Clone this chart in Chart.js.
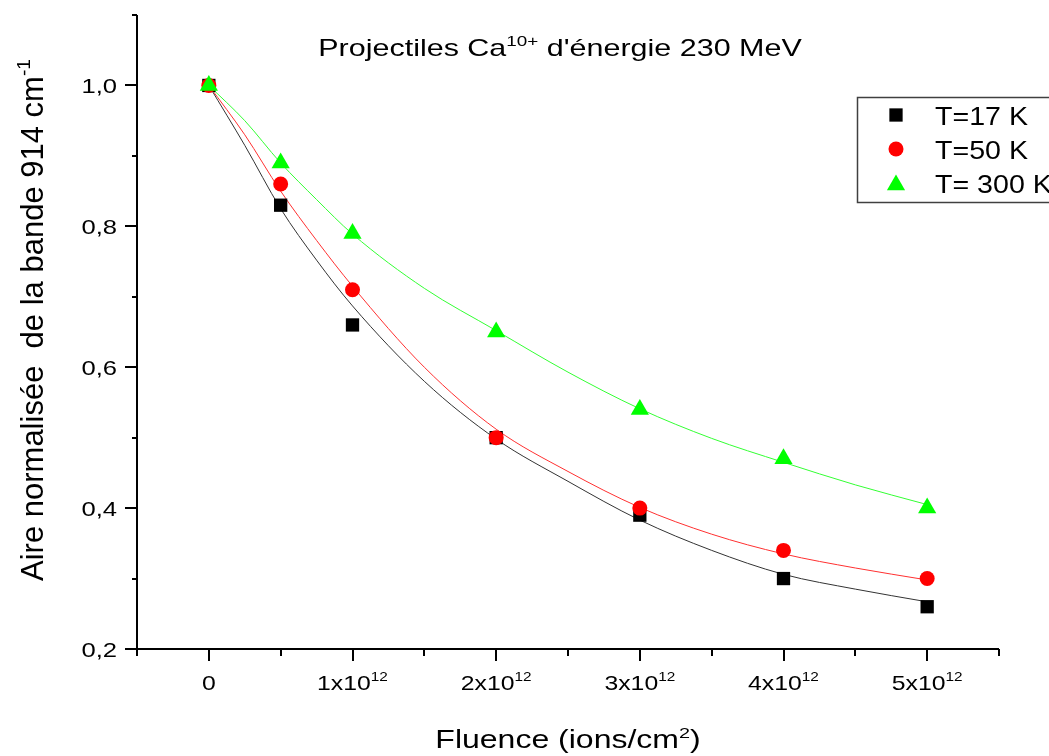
<!DOCTYPE html>
<html>
<head>
<meta charset="UTF-8">
<title>Projectiles Ca10+ d'énergie 230 MeV</title>
<script src="https://cdn.jsdelivr.net/npm/chart.js"></script>
<style>
    html, body { margin: 0; padding: 0; background: #fff; }
    #wrap { width: 1049px; height: 756px; position: relative; }
</style>
</head>
<body>
<div id="wrap"><canvas id="aireChart"></canvas></div>

<script>
    // Données mesurées (fluence en ions/cm2)
    const fluence = [0, 5e11, 1e12, 2e12, 3e12, 4e12, 5e12];
    const aire17K = [1.0, 0.83, 0.66, 0.50, 0.39, 0.30, 0.26];
    const aire50K = [1.0, 0.86, 0.71, 0.50, 0.40, 0.34, 0.30];
    const aire300K = [1.0, 0.89, 0.79, 0.65, 0.54, 0.47, 0.40];

    // Courbes d'ajustement
    const fitFluence = [0, 2.5e11, 5e11, 7.5e11, 1e12, 1.5e12, 2e12, 2.5e12, 3e12, 3.5e12, 4e12, 4.5e12, 5e12];
    const fit17K = [1.0, 0.915, 0.825, 0.752, 0.687, 0.58, 0.498, 0.438, 0.383, 0.340, 0.306, 0.285, 0.267];
    const fit50K = [1.0, 0.93, 0.85, 0.78, 0.715, 0.60, 0.512, 0.452, 0.401, 0.363, 0.335, 0.315, 0.298];
    const fit300K = [1.0, 0.95, 0.89, 0.838, 0.789, 0.712, 0.652, 0.593, 0.541, 0.499, 0.465, 0.433, 0.405];

    // Graduations
    const xTickValues = [0, 1e12, 2e12, 3e12, 4e12, 5e12];
    const xTickBase = ['0', '1x10', '2x10', '3x10', '4x10', '5x10'];
    const xTickSup = ['', '12', '12', '12', '12', '12'];
    const yTickValues = [0.2, 0.4, 0.6, 0.8, 1.0];
    const yTickLabels = ['0,2', '0,4', '0,6', '0,8', '1,0'];

    const legendLabels = ['T=17 K', 'T=50 K', 'T= 300 K'];
    const seriesColors = ['#000000', '#ff0000', '#00ff00'];
    const seriesStyles = ['rect', 'circle', 'triangle'];
    const seriesRadius = [9.4, 7.5, 10.5];

    const FONT = '"Liberation Sans", Arial, sans-serif';

    function toPoints(xs, ys) {
        return xs.map((x, i) => ({ x: x, y: ys[i] }));
    }

    // texte avec exposants : parts = [[texte, estExposant], ...]
    function drawRich(ctx, parts, x, y, size, sx, align) {
        ctx.save();
        ctx.translate(x, y);
        ctx.scale(sx, 1);
        ctx.fillStyle = '#000';
        ctx.textBaseline = 'alphabetic';
        ctx.textAlign = 'left';
        let w = 0;
        parts.forEach(p => {
            ctx.font = (p[1] ? size * 0.62 : size) + 'px ' + FONT;
            w += ctx.measureText(p[0]).width;
        });
        let cx = align === 'center' ? -w / 2 : (align === 'right' ? -w : 0);
        parts.forEach(p => {
            ctx.font = (p[1] ? size * 0.62 : size) + 'px ' + FONT;
            ctx.fillText(p[0], cx, p[1] ? -size * 0.42 : 0);
            cx += ctx.measureText(p[0]).width;
        });
        ctx.restore();
    }

    function drawMarker(ctx, style, r, x, y, color) {
        ctx.save();
        ctx.fillStyle = color;
        ctx.beginPath();
        if (style === 'rect') {
            const s = Math.SQRT1_2 * r;
            ctx.rect(x - s, y - s, 2 * s, 2 * s);
        } else if (style === 'circle') {
            ctx.arc(x, y, r, 0, Math.PI * 2);
        } else {
            let a = 0;
            ctx.moveTo(x + Math.sin(a) * r, y - Math.cos(a) * r);
            a += Math.PI * 2 / 3;
            ctx.lineTo(x + Math.sin(a) * r, y - Math.cos(a) * r);
            a += Math.PI * 2 / 3;
            ctx.lineTo(x + Math.sin(a) * r, y - Math.cos(a) * r);
            ctx.closePath();
        }
        ctx.fill();
        ctx.restore();
    }

    // axes, graduations, titres et légende façon Origin
    const originStyle = {
        id: 'originStyle',
        afterDraw(chart) {
            const ctx = chart.ctx;
            const area = chart.chartArea;
            const xs = chart.scales.x;
            const ys = chart.scales.y;

            ctx.save();
            ctx.strokeStyle = '#000';
            ctx.lineWidth = 2;
            ctx.beginPath();
            ctx.moveTo(area.left, area.top);
            ctx.lineTo(area.left, area.bottom);
            ctx.lineTo(area.right, area.bottom);
            ctx.stroke();

            // graduations x
            ctx.lineWidth = 2;
            ctx.beginPath();
            for (let v = xs.min; v <= xs.max + 1; v += 5e11) {
                const px = Math.round(xs.getPixelForValue(v));
                const major = xTickValues.some(t => Math.abs(t - v) < 1);
                ctx.moveTo(px, area.bottom);
                ctx.lineTo(px, area.bottom + (major ? 12 : 7));
            }
            // graduations y
            for (let i = 0; i <= 9; i++) {
                const v = ys.min + i * 0.1;
                const py = Math.round(ys.getPixelForValue(v));
                const major = yTickValues.some(t => Math.abs(t - v) < 1e-6);
                ctx.moveTo(area.left, py);
                ctx.lineTo(area.left - (major ? 12 : 5), py);
            }
            ctx.stroke();
            ctx.restore();

            xTickValues.forEach((v, i) => {
                const parts = [[xTickBase[i], false]];
                if (xTickSup[i]) parts.push([xTickSup[i], true]);
                drawRich(ctx, parts, xs.getPixelForValue(v), 690, 21, 1.18, 'center');
            });
            yTickValues.forEach((v, i) => {
                drawRich(ctx, [[yTickLabels[i], false]], 117, ys.getPixelForValue(v) + 8, 21, 1.22, 'right');
            });

            // titre
            drawRich(ctx, [['Projectiles Ca', false], ['10+', true], [" d'énergie 230 MeV", false]], 560, 56, 24, 1.27, 'center');
            // titre axe x
            drawRich(ctx, [['Fluence (ions/cm', false], ['2', true], [')', false]], 568, 748, 25, 1.28, 'center');
            // titre axe y
            ctx.save();
            ctx.translate(43, 320);
            ctx.rotate(-Math.PI / 2);
            drawRich(ctx, [['Aire normalisée  de la bande 914 cm', false], ['-1', true]], 0, 0, 31, 1, 'center');
            ctx.restore();

            // légende
            ctx.save();
            ctx.strokeStyle = '#404040';
            ctx.lineWidth = 1.5;
            ctx.strokeRect(857.5, 97.5, 260, 105);
            ctx.restore();
            const rows = [115, 149, 183];
            legendLabels.forEach((lab, i) => {
                drawMarker(ctx, seriesStyles[i], seriesRadius[i], 896, rows[i] + (seriesStyles[i] === 'triangle' ? 2 : 0), seriesColors[i]);
                drawRich(ctx, [[lab, false]], 935, rows[i] + 10, 26, 1.1, 'left');
            });
        }
    };

    const ctx = document.getElementById('aireChart').getContext('2d');
    new Chart(ctx, {
        type: 'scatter',
        data: {
            datasets: [
                {
                    label: legendLabels[0],
                    data: toPoints(fluence, aire17K),
                    pointStyle: seriesStyles[0],
                    pointRadius: seriesRadius[0],
                    backgroundColor: seriesColors[0],
                    borderWidth: 0,
                    order: 2
                },
                {
                    label: legendLabels[1],
                    data: toPoints(fluence, aire50K),
                    pointStyle: seriesStyles[1],
                    pointRadius: seriesRadius[1],
                    backgroundColor: seriesColors[1],
                    borderWidth: 0,
                    order: 1
                },
                {
                    label: legendLabels[2],
                    data: toPoints(fluence, aire300K),
                    pointStyle: seriesStyles[2],
                    pointRadius: seriesRadius[2],
                    backgroundColor: seriesColors[2],
                    borderWidth: 0,
                    order: 0
                },
                {
                    label: 'fit 17 K',
                    data: toPoints(fitFluence, fit17K),
                    showLine: true,
                    pointRadius: 0,
                    borderColor: '#333333',
                    borderWidth: 1,
                    cubicInterpolationMode: 'monotone',
                    order: 5
                },
                {
                    label: 'fit 50 K',
                    data: toPoints(fitFluence, fit50K),
                    showLine: true,
                    pointRadius: 0,
                    borderColor: '#ff3030',
                    borderWidth: 1,
                    cubicInterpolationMode: 'monotone',
                    order: 4
                },
                {
                    label: 'fit 300 K',
                    data: toPoints(fitFluence, fit300K),
                    showLine: true,
                    pointRadius: 0,
                    borderColor: '#33ff33',
                    borderWidth: 1,
                    cubicInterpolationMode: 'monotone',
                    order: 3
                }
            ]
        },
        options: {
            responsive: true,
            maintainAspectRatio: false,
            animation: false,
            layout: { padding: { top: 15, right: 50, left: 0, bottom: 0 } },
            plugins: {
                legend: { display: false },
                tooltip: { enabled: false },
                title: { display: false }
            },
            scales: {
                x: {
                    type: 'linear',
                    min: -5e11,
                    max: 5.5e12,
                    grid: { display: false },
                    border: { display: false },
                    ticks: { display: false },
                    afterFit: function(scale) { scale.height = 107; }
                },
                y: {
                    type: 'linear',
                    min: 0.2,
                    max: 1.1,
                    grid: { display: false },
                    border: { display: false },
                    ticks: { display: false },
                    afterFit: function(scale) { scale.width = 137; }
                }
            }
        },
        plugins: [originStyle]
    });
</script>
</body>
</html>
